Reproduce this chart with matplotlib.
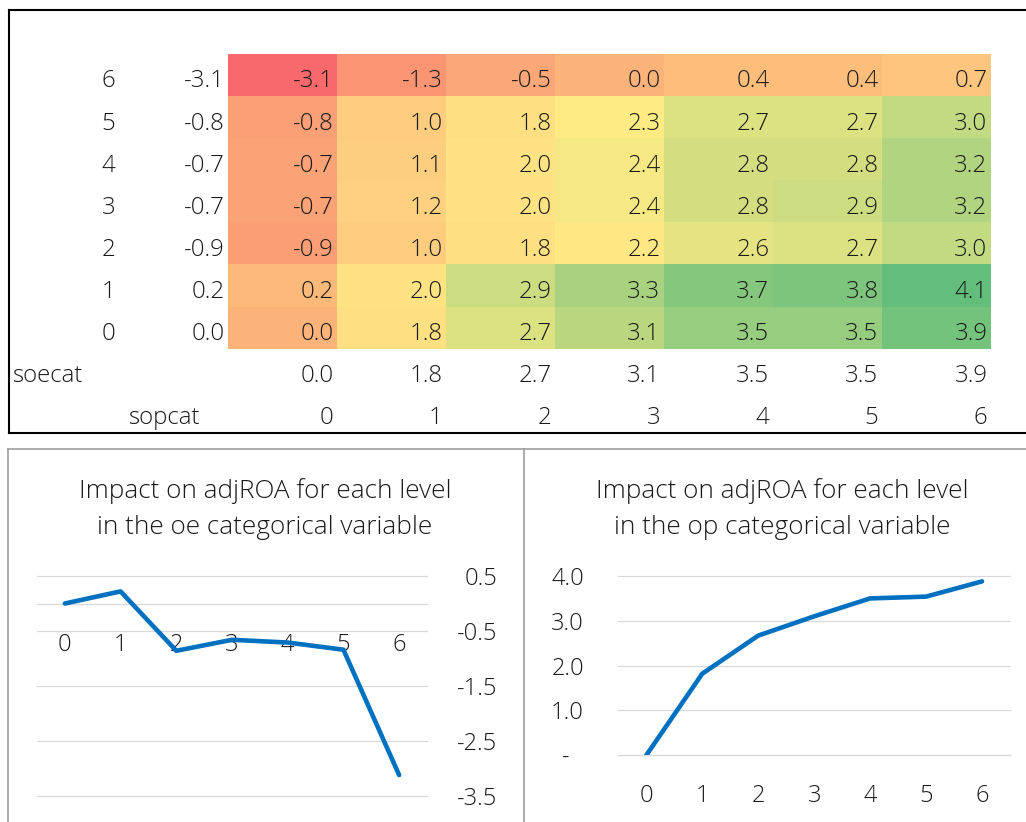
import numpy as np
import matplotlib
matplotlib.use("Agg")
import matplotlib.pyplot as plt
from matplotlib.colors import LinearSegmentedColormap, TwoSlopeNorm
from matplotlib.lines import Line2D

plt.rcParams["font.family"] = ["Open Sans", "DejaVu Sans"]
plt.rcParams["font.weight"] = "light"

# ---- data -------------------------------------------------------------
levels = [0, 1, 2, 3, 4, 5, 6]
# estimated effect of each level of the two categorical variables
oe_effect = [0.0, 0.22, -0.86, -0.66, -0.71, -0.84, -3.12]
op_effect = [0.0, 1.82, 2.67, 3.10, 3.50, 3.54, 3.88]

# combined effect table, rows listed from soecat 6 down to soecat 0
row_levels = [6, 5, 4, 3, 2, 1, 0]
row_effect = ["-3.1", "-0.8", "-0.7", "-0.7", "-0.9", "0.2", "0.0"]
heat_rows = [
    [-3.1, -1.3, -0.5, 0.0, 0.4, 0.4, 0.7],
    [-0.8, 1.0, 1.8, 2.3, 2.7, 2.7, 3.0],
    [-0.7, 1.1, 2.0, 2.4, 2.8, 2.8, 3.2],
    [-0.7, 1.2, 2.0, 2.4, 2.8, 2.9, 3.2],
    [-0.9, 1.0, 1.8, 2.2, 2.6, 2.7, 3.0],
    [0.2, 2.0, 2.9, 3.3, 3.7, 3.8, 4.1],
    [0.0, 1.8, 2.7, 3.1, 3.5, 3.5, 3.9],
]
col_effect = ["0.0", "1.8", "2.7", "3.1", "3.5", "3.5", "3.9"]

left_title = ["Impact on adjROA for each level", "in the oe categorical variable"]
right_title = ["Impact on adjROA for each level", "in the op categorical variable"]
left_yticks = [0.5, -0.5, -1.5, -2.5, -3.5]
right_yticks = [0.0, 1.0, 2.0, 3.0, 4.0]
right_ylabels = ["-", "1.0", "2.0", "3.0", "4.0"]

# ---- figure -----------------------------------------------------------
W, H = 1026, 822
fig = plt.figure(figsize=(W / 100, H / 100), dpi=100)


def axes_px(x0, y0, x1, y1):
    return fig.add_axes([x0 / W, 1 - y1 / H, (x1 - x0) / W, (y1 - y0) / H])


def fx(x):
    return x / W


def fy(y):
    return 1 - y / H


TXT = "#1a1a1a"
FS_TAB = 17.3

# ---- table with colour scale -----------------------------------------
COL_W, ROW_H = 109.0, 42.1
X0, Y0 = 10.0, 11.9
tab = axes_px(8.5, 10.5, 1030, 432.5)
tab.set_xlim((8.5 - X0) / COL_W, (1030 - X0) / COL_W)
tab.set_ylim((432.5 - Y0) / ROW_H, (10.5 - Y0) / ROW_H)
tab.set_xticks([])
tab.set_yticks([])
for side in ("top", "left", "bottom"):
    tab.spines[side].set_color("black")
    tab.spines[side].set_linewidth(1.5)
tab.spines["right"].set_visible(False)

vals = np.array(heat_rows)
cmap = LinearSegmentedColormap.from_list("ryg", ["#F8696B", "#FFEB84", "#63BE7B"])
norm = TwoSlopeNorm(vmin=vals.min(), vcenter=np.percentile(vals, 50), vmax=vals.max())
tab.pcolormesh(np.arange(2, 10), np.arange(1, 9), vals, cmap=cmap, norm=norm,
               shading="flat", edgecolors="none")

rpad = 3.5 / COL_W
base = 8.7 / ROW_H
for i, lvl in enumerate(row_levels):
    yb = i + 2 - base
    tab.text(1 - rpad, yb, str(lvl), ha="right", va="baseline", fontsize=FS_TAB, color=TXT)
    tab.text(2 - rpad, yb, row_effect[i], ha="right", va="baseline", fontsize=FS_TAB, color=TXT)
    for j, v in enumerate(heat_rows[i]):
        tab.text(j + 3 - rpad, yb, f"{v:.1f}", ha="right", va="baseline",
                 fontsize=FS_TAB, color=TXT)

tab.text(1.7 / COL_W, 9 - base, "soecat", ha="left", va="baseline", fontsize=FS_TAB, color=TXT)
tab.text(1 + 8.7 / COL_W, 10 - base, "sopcat", ha="left", va="baseline", fontsize=FS_TAB, color=TXT)
for j, s in enumerate(col_effect):
    tab.text(j + 3 - rpad, 9 - base, s, ha="right", va="baseline", fontsize=FS_TAB, color=TXT)
    tab.text(j + 3 - rpad, 10 - base, str(levels[j]), ha="right", va="baseline",
             fontsize=FS_TAB, color=TXT)

# ---- chart frames -----------------------------------------------------
FRAME = "#9E9E9E"
for (xa, ya, xb, yb) in [(7.8, 449.5, 523.5, 449.5), (7.8, 449.5, 7.8, 830),
                         (523.5, 449.5, 1030, 449.5), (523.5, 449.5, 523.5, 830)]:
    fig.add_artist(Line2D([fx(xa), fx(xb)], [fy(ya), fy(yb)], transform=fig.transFigure,
                          color=FRAME, lw=1.2))

GRID = "#D9D9D9"
BLUE = "#0070C0"
FS_AX = 17
FS_TI = 18.8


def style_line_axes(ax):
    for side in ("top", "left", "right"):
        ax.spines[side].set_visible(False)
    ax.spines["bottom"].set_color(GRID)
    ax.spines["bottom"].set_linewidth(0.9)
    ax.grid(axis="y", color=GRID, lw=0.9)
    ax.set_axisbelow(True)
    ax.set_xlim(-0.5, 6.5)
    ax.set_xticks(levels)
    ax.set_xticklabels([str(v) for v in levels])
    ax.tick_params(axis="x", length=0, pad=21, labelsize=FS_AX, labelcolor=TXT)
    ax.tick_params(axis="y", length=0, labelleft=False, labelright=False)
    ax.patch.set_alpha(0)


# left chart: oe levels, value axis on the right
axL = axes_px(37, 576, 427, 796)
style_line_axes(axL)
axL.set_ylim(-3.5, 0.5)
axL.set_yticks(left_yticks)
axL.spines["bottom"].set_position(("data", 0))
axL.plot(levels, oe_effect, color=BLUE, lw=3.3, solid_capstyle="round",
         solid_joinstyle="round", zorder=3)
for v in left_yticks:
    axL.text((497 - 37) / 390, v, f"{v:.1f}", transform=axL.get_yaxis_transform(),
             ha="right", va="center_baseline", fontsize=FS_AX, color=TXT)

# right chart: op levels
axR = axes_px(618.3, 576, 1010, 755.3)
style_line_axes(axR)
axR.set_ylim(0, 4)
axR.set_yticks(right_yticks)
axR.plot(levels, op_effect, color=BLUE, lw=3.3, solid_capstyle="round",
         solid_joinstyle="round", zorder=3)
for v, s in zip(right_yticks, right_ylabels):
    xr = 584 if s != "-" else 570
    axR.text((xr - 618.3) / 391.7, v, s, transform=axR.get_yaxis_transform(),
             ha="right", va="center_baseline", fontsize=FS_AX, color=TXT)

for ax in (axL, axR):
    for gl in ax.get_ygridlines():
        gl.set_clip_on(False)

# titles
for cx, lines in [(265, left_title), (781.8, right_title)]:
    fig.text(fx(cx), fy(498.3), lines[0], ha="center", va="baseline", fontsize=FS_TI, color=TXT)
    fig.text(fx(cx), fy(534), lines[1], ha="center", va="baseline", fontsize=FS_TI, color=TXT)

fig.savefig("out.png", dpi=100)
